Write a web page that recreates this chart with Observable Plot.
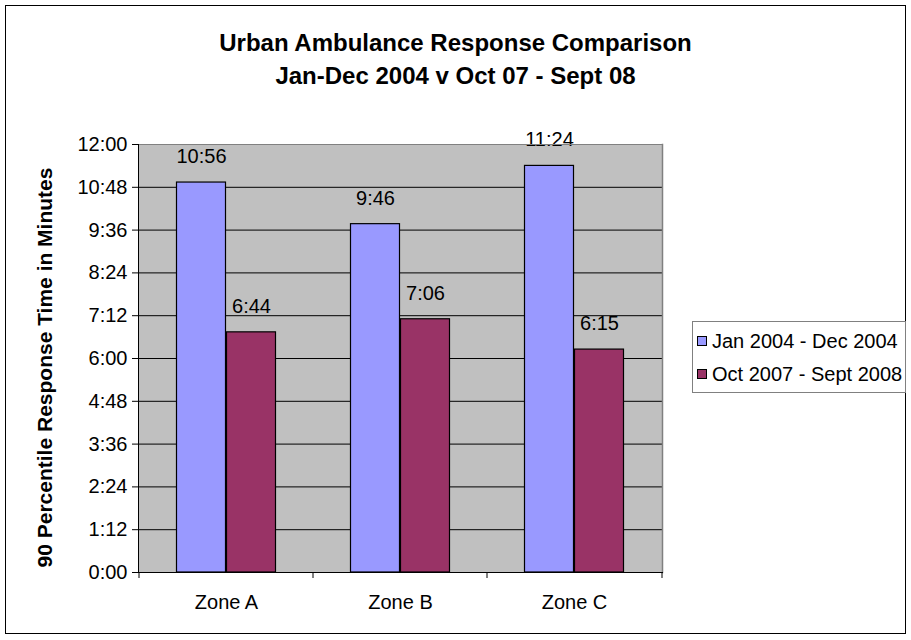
<!DOCTYPE html>
<html>
<head>
<meta charset="utf-8">
<script src="https://cdn.jsdelivr.net/npm/d3@7"></script>
<script src="https://cdn.jsdelivr.net/npm/@observablehq/plot@0.6"></script>
<style>
  html, body { margin: 0; padding: 0; background: #fff; }
  #wrap { position: relative; width: 911px; height: 640px; font-family: "Liberation Sans", Arial, sans-serif; }
  #border { position: absolute; left: 5px; top: 5px; width: 901px; height: 629px; border: 1px solid #000; box-sizing: border-box; }
  #title { position: absolute; left: 5px; top: 26px; width: 901px; text-align: center; font-weight: bold; font-size: 24px; line-height: 33px; color: #000; }
  #chart { position: absolute; left: 0; top: 110px; }
  #legend { position: absolute; left: 692px; top: 321px; width: 214px; height: 72px; border: 1px solid #808080; box-sizing: border-box; background: #fff; font-size: 20px; }
  .item { position: absolute; left: 4px; height: 22px; line-height: 22px; white-space: nowrap; }
  .sw { display: inline-block; width: 8px; height: 8px; border: 1px solid #000; margin-right: 5px; vertical-align: 2px; }
</style>
</head>
<body>
<div id="wrap">
  <div id="border"></div>
  <div id="title"></div>
  <div id="chart"></div>
  <div id="legend"></div>
</div>
<script>
const titleLines = ["Urban Ambulance Response Comparison", "Jan-Dec 2004 v Oct 07 - Sept 08"];
const zones = ["Zone A", "Zone B", "Zone C"];
const seriesNames = ["Jan 2004 - Dec 2004", "Oct 2007 - Sept 2008"];
const seriesColors = ["#9999FF", "#993366"];
const values2004 = ["10:56", "9:46", "11:24"];
const values0708 = ["6:44", "7:06", "6:15"];
const yTickLabels = ["0:00", "1:12", "2:24", "3:36", "4:48", "6:00", "7:12", "8:24", "9:36", "10:48", "12:00"];
const yTitle = "90 Percentile Response Time in Minutes";

const toSec = s => { const [m, ss] = s.split(":").map(Number); return m * 60 + ss; };
const fmt = v => `${Math.floor(v / 60)}:${String(Math.round(v % 60)).padStart(2, "0")}`;

const rows0 = zones.map((z, i) => ({zone: z, label: values2004[i], secs: toSec(values2004[i])}));
const rows1 = zones.map((z, i) => ({zone: z, label: values0708[i], secs: toSec(values0708[i])}));
const yTicks = yTickLabels.map(toSec);
const yMax = yTicks[yTicks.length - 1];

document.getElementById("title").innerHTML = titleLines.map(t => `<div>${t}</div>`).join("");

const H = 530, MT = 34, MB = 68;
const frameH = H - MT - MB;

const chart = Plot.plot({
  width: 911,
  height: H,
  marginTop: MT,
  marginBottom: MB,
  marginLeft: 138,
  marginRight: 249,
  style: {fontFamily: "Liberation Sans, Arial, sans-serif", fontSize: "20px", color: "#000", background: "transparent"},
  x: {domain: zones, padding: 0, axis: null},
  y: {domain: [0, yMax], axis: null},
  marks: [
    Plot.frame({fill: "#C0C0C0", stroke: null}),
    Plot.ruleY(yTicks.filter(t => t > 0 && t < yMax), {stroke: "#000", strokeWidth: 1}),
    Plot.barY(rows0, {x: "zone", y: "secs", fill: seriesColors[0], stroke: "#000", strokeWidth: 1.2, insetLeft: 37.5, insetRight: 87.5}),
    Plot.barY(rows1, {x: "zone", y: "secs", fill: seriesColors[1], stroke: "#000", strokeWidth: 1.2, insetLeft: 87.5, insetRight: 37.5}),
    Plot.text(rows0, {x: "zone", y: "secs", text: "label", dx: -25, dy: -26, fontSize: 20, fill: "#000"}),
    Plot.text(rows1, {x: "zone", y: "secs", text: "label", dx: 25, dy: -26, fontSize: 20, fill: "#000"}),
    Plot.frame({anchor: "top", stroke: "#808080"}),
    Plot.frame({anchor: "right", stroke: "#808080", strokeWidth: 1.5}),
    Plot.frame({anchor: "left", stroke: "#000"}),
    Plot.frame({anchor: "bottom", stroke: "#000"}),
    Plot.axisY({ticks: yTicks, tickFormat: fmt, tickSize: 6, tickPadding: 5, label: null, fontSize: 20}),
    Plot.axisX({tickSize: 0, tickPadding: 22, label: null, fontSize: 20}),
    Plot.ruleX(zones, {x: d => d, dx: -87.5, insetTop: frameH, insetBottom: -6, stroke: "#000"}),
    Plot.ruleX(zones.slice(-1), {x: d => d, dx: 87.5, insetTop: frameH, insetBottom: -6, stroke: "#000"}),
    Plot.text([yTitle], {frameAnchor: "left", textAnchor: "middle", rotate: -90, dx: -93, dy: 9, fontWeight: "bold", fontSize: 21, fill: "#000"})
  ]
});
document.getElementById("chart").appendChild(chart);

const legend = document.getElementById("legend");
seriesNames.forEach((name, i) => {
  const it = document.createElement("div");
  it.className = "item";
  it.style.top = (8 + i * 33) + "px";
  it.innerHTML = `<span class="sw" style="background:${seriesColors[i]}"></span>${name}`;
  legend.appendChild(it);
});
</script>
</body>
</html>
